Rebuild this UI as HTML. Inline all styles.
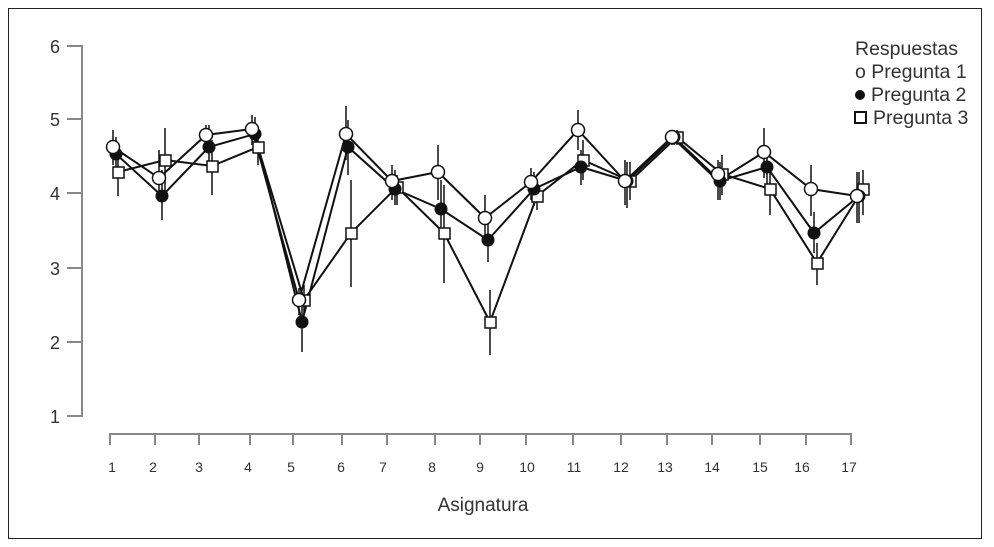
<!DOCTYPE html><html><head><style>body{margin:0;background:#fff}svg{display:block}</style></head><body>
<svg width="994" height="547" xmlns="http://www.w3.org/2000/svg" font-family="Liberation Sans, sans-serif">
<rect x="0" y="0" width="994" height="547" fill="#fff"/>
<rect x="8.5" y="8.5" width="973" height="530" fill="none" stroke="#222" stroke-width="1"/>
<g stroke="#888" stroke-width="2" fill="none">
<path d="M67 46H82V416H67M67 119H82M67 193H82M67 268H82M67 342H82"/>
<path d="M110 445V434H851V445M155 434V445M199 434V445M250 434V445M293 434V445M342 434V445M387 434V445M435 434V445M480 434V445M526 434V445M573 434V445M621 434V445M667 434V445M712 434V445M760 434V445M806 434V445"/>
</g>
<g font-size="18" fill="#333" text-anchor="end">
<text x="60" y="53">6</text><text x="60" y="126">5</text><text x="60" y="200">4</text><text x="60" y="275">3</text><text x="60" y="349">2</text><text x="60" y="423">1</text>
</g>
<g font-size="14" fill="#333" text-anchor="middle">
<text x="112" y="472">1</text><text x="153" y="472">2</text><text x="199" y="472">3</text><text x="248" y="472">4</text><text x="291" y="472">5</text><text x="341" y="472">6</text><text x="383" y="472">7</text><text x="432" y="472">8</text><text x="480" y="472">9</text><text x="527" y="472">10</text><text x="574" y="472">11</text><text x="621" y="472">12</text><text x="665" y="472">13</text><text x="712" y="472">14</text><text x="760" y="472">15</text><text x="802" y="472">16</text><text x="849" y="472">17</text>
</g>
<text x="483" y="511" font-size="19" fill="#333" text-anchor="middle">Asignatura</text>
<g font-size="19.5" fill="#333">
<text x="855" y="55">Respuestas</text>
<text x="855" y="78">o Pregunta 1</text>
<circle cx="860" cy="95" r="5" fill="#111"/><text x="871" y="101">Pregunta 2</text>
<rect x="855" y="112" width="11" height="11" fill="#fff" stroke="#111" stroke-width="2"/><text x="873" y="124">Pregunta 3</text>
</g>
<g stroke="#111" stroke-width="1.5">
<path d="M113 130V165M116 137V175M118 150V196M159 150V200M162 170V220M165 128V200M206 125V150M209 125V170M212 140V195M252 115V145M255 117V150M258 130V165M299 288V315M302 300V352M304 285V315M346 106V160M348 120V175M351 180V287M392 165V200M395 170V205M397 175V205M438 145V200M441 180V235M444 185V283M485 195V240M488 222V262M490 290V355M531 168V200M534 172V206M537 180V210M578 110V150M581 150V185M583 140V180M625 160V205M627 162V208M630 162V200M672 130V145M674 130V145M677 130V145M718 160V200M720 162V200M722 155V195M764 128V178M767 150V185M770 170V215M811 165V216M814 212V253M817 243V285M857 172V223M859 172V223M863 170V215"/>
</g>
<g fill="none" stroke="#111" stroke-width="2">
<polyline points="118,172 165,160 212,166 258,147 304,300 351,233 397,187 444,233 490,322 537,196 583,160 630,181 677,137 722,174 770,189 817,263 863,189"/>
<polyline points="116,154 162,196 209,147 255,134 302,322 348,147 395,189 441,209 488,240 534,189 581,167 627,181 674,137 720,181 767,167 814,233 859,196"/>
<polyline points="113,147 159,178 206,135 252,129 299,300 346,134 392,181 438,172 485,218 531,182 578,130 625,181 672,137 718,181 764,152 811,189 857,196"/>
</g>
<g fill="#fff" stroke="#111" stroke-width="1.5">
<rect x="113" y="167" width="11" height="11"/><rect x="160" y="155" width="11" height="11"/><rect x="207" y="161" width="11" height="11"/><rect x="253" y="142" width="11" height="11"/><rect x="299" y="295" width="11" height="11"/><rect x="346" y="228" width="11" height="11"/><rect x="392" y="182" width="11" height="11"/><rect x="439" y="228" width="11" height="11"/><rect x="485" y="317" width="11" height="11"/><rect x="532" y="191" width="11" height="11"/><rect x="578" y="155" width="11" height="11"/><rect x="625" y="176" width="11" height="11"/><rect x="672" y="132" width="11" height="11"/><rect x="717" y="169" width="11" height="11"/><rect x="765" y="184" width="11" height="11"/><rect x="812" y="258" width="11" height="11"/><rect x="858" y="184" width="11" height="11"/>
</g>
<g fill="#111">
<circle cx="116" cy="154" r="6.5"/><circle cx="162" cy="196" r="6.5"/><circle cx="209" cy="147" r="6.5"/><circle cx="255" cy="134" r="6.5"/><circle cx="302" cy="322" r="6.5"/><circle cx="348" cy="147" r="6.5"/><circle cx="395" cy="189" r="6.5"/><circle cx="441" cy="209" r="6.5"/><circle cx="488" cy="240" r="6.5"/><circle cx="534" cy="189" r="6.5"/><circle cx="581" cy="167" r="6.5"/><circle cx="627" cy="181" r="6.5"/><circle cx="674" cy="137" r="6.5"/><circle cx="720" cy="181" r="6.5"/><circle cx="767" cy="167" r="6.5"/><circle cx="814" cy="233" r="6.5"/><circle cx="859" cy="196" r="6.5"/>
</g>
<g fill="#fff" stroke="#111" stroke-width="1.5">
<circle cx="113" cy="147" r="6.5"/><circle cx="159" cy="178" r="6.5"/><circle cx="206" cy="135" r="6.5"/><circle cx="252" cy="129" r="6.5"/><circle cx="299" cy="300" r="6.5"/><circle cx="346" cy="134" r="6.5"/><circle cx="392" cy="181" r="6.5"/><circle cx="438" cy="172" r="6.5"/><circle cx="485" cy="218" r="6.5"/><circle cx="531" cy="182" r="6.5"/><circle cx="578" cy="130" r="6.5"/><circle cx="625" cy="181" r="6.5"/><circle cx="672" cy="137" r="6.5"/><circle cx="718" cy="174" r="6.5"/><circle cx="764" cy="152" r="6.5"/><circle cx="811" cy="189" r="6.5"/><circle cx="857" cy="196" r="6.5"/>
</g>
</svg>
</body></html>
